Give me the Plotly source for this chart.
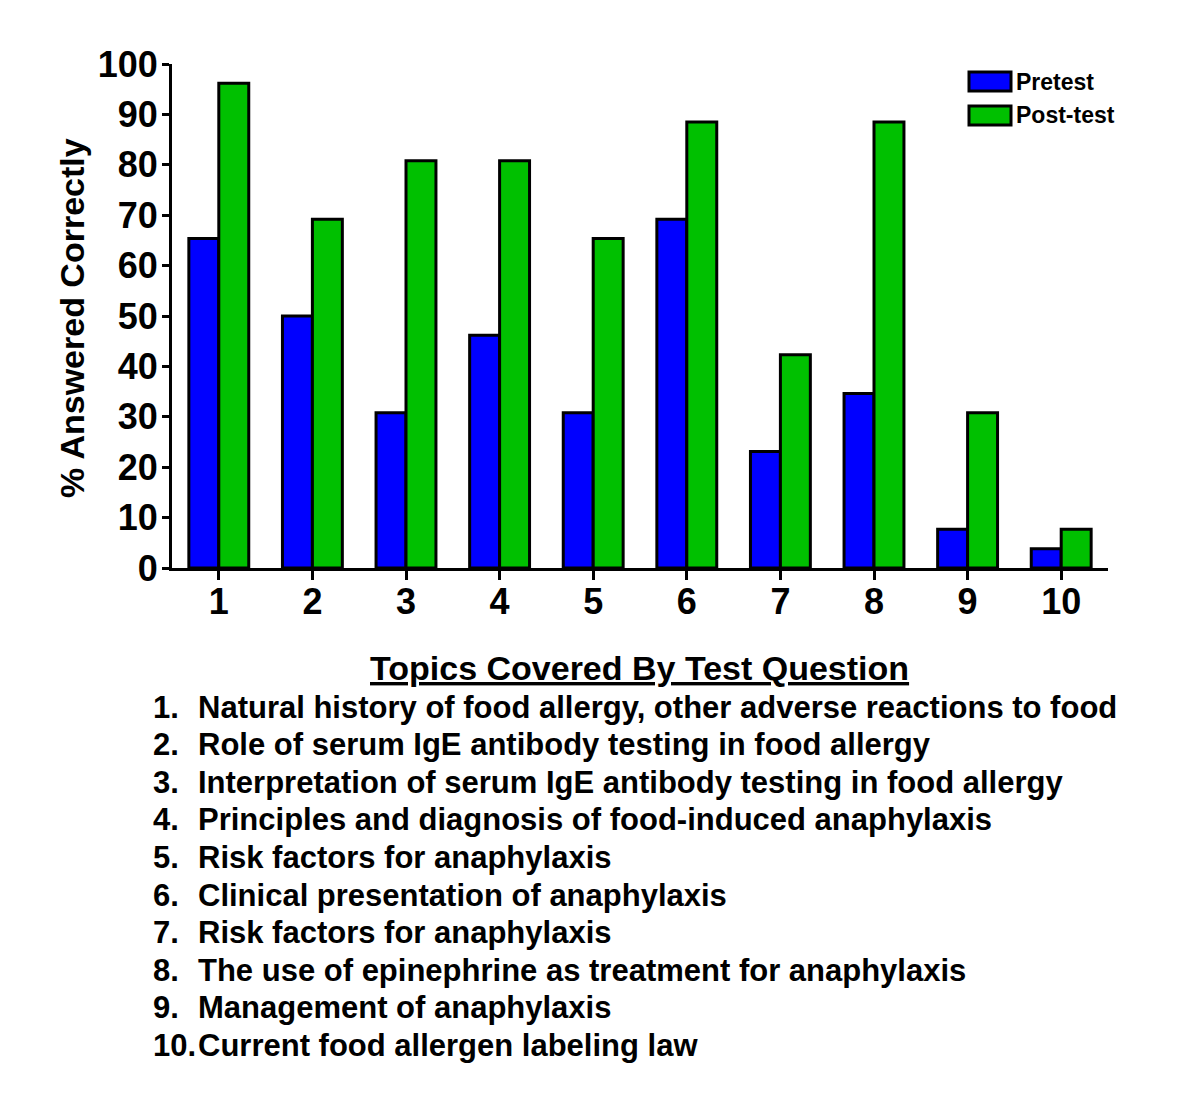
import plotly.graph_objects as go

questions = ["1", "2", "3", "4", "5", "6", "7", "8", "9", "10"]
pretest = [65.4, 50.0, 30.8, 46.2, 30.8, 69.2, 23.1, 34.6, 7.7, 3.8]
posttest = [96.2, 69.2, 80.8, 80.8, 65.4, 88.5, 42.3, 88.5, 30.8, 7.7]
series_names = ["Pretest", "Post-test"]
series_colors = ["#0000FF", "#00C000"]
y_ticks = [0, 10, 20, 30, 40, 50, 60, 70, 80, 90, 100]
y_title = "% Answered Correctly"
list_title = "Topics Covered By Test Question"
topic_numbers = ["1.", "2.", "3.", "4.", "5.", "6.", "7.", "8.", "9.", "10."]
topics = [
    "Natural history of food allergy, other adverse reactions to food",
    "Role of serum IgE antibody testing in food allergy",
    "Interpretation of serum IgE antibody testing in food allergy",
    "Principles and diagnosis of food-induced anaphylaxis",
    "Risk factors for anaphylaxis",
    "Clinical presentation of anaphylaxis",
    "Risk factors for anaphylaxis",
    "The use of epinephrine as treatment for anaphylaxis",
    "Management of anaphylaxis",
    "Current food allergen labeling law",
]

FONT = "Liberation Sans, Arial, sans-serif"
OFF = 8  # default page body margin
W, H = 1200 - OFF, 1106 - OFF
L, R, T, B = 172, 1108, 64, 568  # plot area in page pixels


def px_x(x):
    return (x - L) / (R - L)


def px_y(y):
    return (B - y) / (B - T)


fig = go.Figure()
for name, vals, col in zip(series_names, [pretest, posttest], series_colors):
    fig.add_trace(go.Bar(
        x=questions, y=vals, name=name,
        marker=dict(color=col, line=dict(color="black", width=3)),
        showlegend=False,
    ))

annotations = []
shapes = []

# custom legend with wide rectangles
legend_rows = [(72, 91), (106, 125)]
for (y0, y1), name, col in zip(legend_rows, series_names, series_colors):
    shapes.append(dict(type="rect", xref="paper", yref="paper",
                       x0=px_x(969), x1=px_x(1011), y0=px_y(y1), y1=px_y(y0),
                       fillcolor=col, line=dict(color="black", width=3)))
    annotations.append(dict(xref="paper", yref="paper", x=px_x(1014), y=px_y((y0 + y1) / 2),
                            xanchor="left", yanchor="middle", showarrow=False,
                            text="<b>%s</b>" % name,
                            font=dict(family=FONT, size=23, color="black")))

# y axis title
annotations.append(dict(xref="paper", yref="paper", x=px_x(72), y=px_y(318),
                        xanchor="center", yanchor="middle", showarrow=False,
                        textangle=-90, text="<b>%s</b>" % y_title,
                        font=dict(family=FONT, size=34, color="black")))

# list title
annotations.append(dict(xref="paper", yref="paper", x=px_x(639), y=px_y(668),
                        xanchor="center", yanchor="middle", showarrow=False,
                        text="<b><u>%s</u></b>" % list_title,
                        font=dict(family=FONT, size=34, color="black")))

# list items
row0, step = 707, 37.6
for i, (num, topic) in enumerate(zip(topic_numbers, topics)):
    yc = row0 + i * step
    annotations.append(dict(xref="paper", yref="paper", x=px_x(151), y=px_y(yc),
                            xanchor="left", yanchor="middle", showarrow=False,
                            text="<b>%s</b>" % num,
                            font=dict(family=FONT, size=31, color="black")))
    annotations.append(dict(xref="paper", yref="paper", x=px_x(196), y=px_y(yc),
                            xanchor="left", yanchor="middle", showarrow=False,
                            text="<b>%s</b>" % topic,
                            font=dict(family=FONT, size=31, color="black")))

fig.update_layout(
    width=W, height=H,
    margin=dict(l=L - OFF, r=1200 - R, t=T - OFF, b=1106 - B, pad=0),
    paper_bgcolor="white", plot_bgcolor="white",
    barmode="group", bargap=0.36, bargroupgap=0,
    font=dict(family=FONT, color="black"),
    annotations=annotations, shapes=shapes,
    xaxis=dict(
        type="category", showline=True, linecolor="black", linewidth=3,
        ticks="outside", ticklen=9, tickwidth=3, tickcolor="black",
        showgrid=False, zeroline=False, ticklabelstandoff=-9,
        tickfont=dict(family=FONT, size=36, color="black", weight="bold"),
    ),
    yaxis=dict(
        range=[0, 100], tickvals=y_ticks, showline=True, linecolor="black", linewidth=3,
        ticks="outside", ticklen=7, tickwidth=3, tickcolor="black",
        showgrid=False, zeroline=False, ticklabelstandoff=-3,
        tickfont=dict(family=FONT, size=36, color="black", weight="bold"),
    ),
)

fig.write_html("out.html")
